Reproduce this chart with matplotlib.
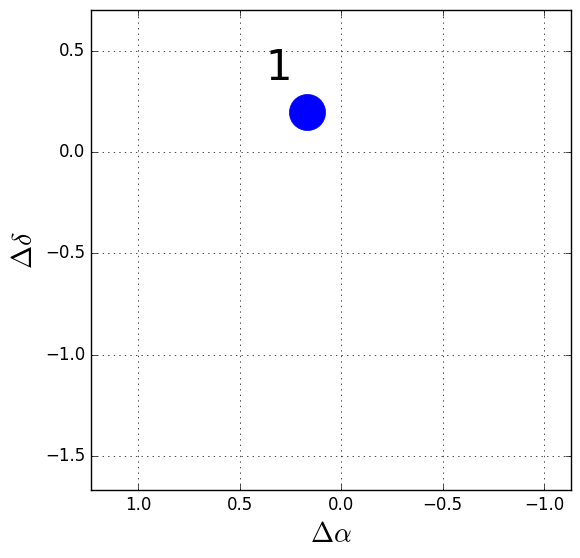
import matplotlib
matplotlib.use("Agg")
import matplotlib.pyplot as plt

plt.style.use("classic")

# data
ra_offsets = [0.17]
dec_offsets = [0.20]
labels = ["1"]
label_dx = [0.135]
label_dy = [0.215]

fig = plt.figure(figsize=(5.8, 5.58), dpi=100)
ax = fig.add_axes([91/580, 68/558, 480/580, 480/558])

ax.plot(ra_offsets, dec_offsets, "o", color="blue", markeredgecolor="blue",
        markersize=26)
for x, y, t, dx, dy in zip(ra_offsets, dec_offsets, labels, label_dx, label_dy):
    ax.text(x + dx, y + dy, t, fontsize=30, ha="center", va="center")

ax.set_xlim(1.232, -1.133)
ax.set_ylim(-1.668, 0.702)
ax.set_xticks([1.0, 0.5, 0.0, -0.5, -1.0])
ax.set_yticks([0.5, 0.0, -0.5, -1.0, -1.5])
ax.grid(True)
ax.set_xlabel(r"$\Delta\alpha$", fontsize=20)
ax.set_ylabel(r"$\Delta\delta$", fontsize=20)

fig.savefig("out.png", dpi=100)
